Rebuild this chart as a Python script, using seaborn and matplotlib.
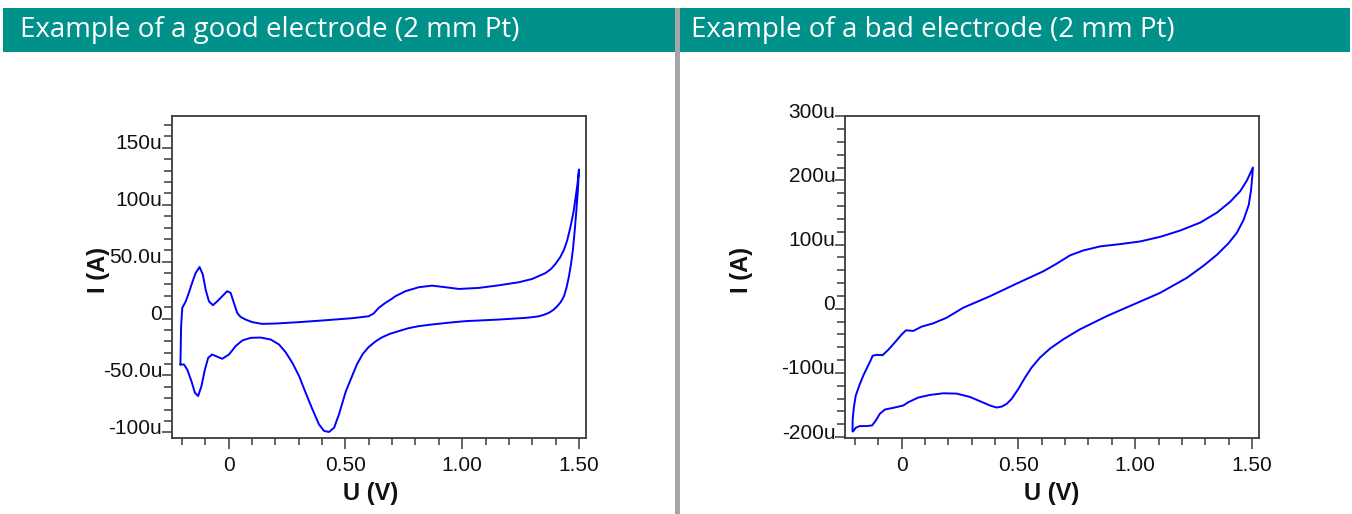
import numpy as np
import pandas as pd
import matplotlib
matplotlib.use("Agg")
import matplotlib.pyplot as plt
from matplotlib.patches import Rectangle
from matplotlib.transforms import ScaledTranslation
from matplotlib.ticker import MultipleLocator
import seaborn as sns

# ---------------- data (U in V, I in µA) ----------------
good_title = "Example of a good electrode (2 mm Pt)"
bad_title = "Example of a bad electrode (2 mm Pt)"

good_fwd_U = [-0.206, -0.203, -0.198, -0.183, -0.170, -0.156, -0.141, -0.124, -0.110, -0.098,
              -0.084, -0.067, -0.048, -0.027, -0.006, 0.009, 0.023, 0.037, 0.051, 0.073,
              0.102, 0.144, 0.20, 0.30, 0.416, 0.53, 0.60, 0.621, 0.643, 0.671, 0.70,
              0.714, 0.757, 0.814, 0.871, 0.929, 0.986, 1.071, 1.157, 1.243, 1.30, 1.357,
              1.38, 1.40, 1.42, 1.436, 1.45, 1.464, 1.476, 1.486, 1.494, 1.50]
good_fwd_I = [-40.4, -6.7, 9.4, 15.2, 22.5, 31.3, 40.0, 45.3, 38.6, 25.4,
              15.2, 11.7, 15.2, 19.6, 24.0, 22.5, 13.7, 5.0, 1.5, -0.9,
              -3.2, -4.7, -4.4, -3.2, -1.5, 0.3, 2.0, 4.4, 9.4, 13.7, 17.5,
              19.6, 24.0, 27.5, 28.9, 27.5, 26.0, 26.9, 29.2, 31.9, 34.8, 40.0,
              43.5, 48.2, 54.0, 60.5, 69.0, 81.0, 93.0, 107.0, 119.0, 131.0]
good_rev_U = [1.495, 1.489, 1.482, 1.474, 1.466, 1.457, 1.447, 1.436, 1.422, 1.407, 1.39,
              1.371, 1.35, 1.329, 1.30, 1.271, 1.157, 1.014, 0.95, 0.90, 0.86, 0.814,
              0.77, 0.729, 0.69, 0.657, 0.63, 0.60, 0.575, 0.55, 0.53, 0.502, 0.473,
              0.452, 0.430, 0.409, 0.387, 0.359, 0.330, 0.302, 0.273, 0.244, 0.216,
              0.180, 0.137, 0.094, 0.059, 0.030, 0.002, -0.027, -0.048, -0.070, -0.087,
              -0.101, -0.116, -0.130, -0.144, -0.159, -0.177, -0.191, -0.206]
good_rev_I = [112.0, 95.6, 78.0, 60.5, 48.0, 37.1, 27.5, 19.6, 14.5, 10.8, 7.5,
              5.0, 3.3, 2.0, 1.2, 0.6, -0.9, -2.3, -3.5, -4.6, -5.5, -6.7,
              -8.5, -11.0, -13.5, -16.5, -20.0, -25.0, -31.0, -40.0, -50.0, -64.0, -84.0,
              -95.9, -99.7, -98.8, -93.0, -79.8, -65.2, -50.6, -38.9, -29.5, -22.8,
              -18.4, -16.7, -17.0, -19.3, -24.3, -31.6, -35.4, -33.6, -31.6, -34.5,
              -44.7, -59.4, -68.1, -65.2, -55.0, -44.7, -40.4, -40.4]

bad_fwd_U = [-0.21, -0.209, -0.204, -0.196, -0.181, -0.164, -0.147, -0.131, -0.124, -0.107,
             -0.081, -0.057, -0.029, 0.0, 0.019, 0.05, 0.086, 0.136, 0.193, 0.264, 0.379,
             0.493, 0.607, 0.664, 0.721, 0.779, 0.85, 0.936, 1.021, 1.107, 1.193, 1.279,
             1.35, 1.407, 1.45, 1.479, 1.504]
bad_fwd_I = [-191.2, -171.6, -153.5, -135.4, -119.9, -104.4, -91.5, -79.6, -73.4, -71.8,
             -72.4, -64.1, -52.7, -40.3, -33.6, -34.6, -27.9, -22.7, -14.0, 1.6, 19.6,
             39.3, 58.4, 70.3, 83.2, 91.0, 97.2, 100.8, 104.9, 112.1, 122.0, 134.4,
             149.9, 166.9, 183.5, 200.5, 220.2]
bad_rev_U = [1.501, 1.496, 1.486, 1.464, 1.436, 1.40, 1.35, 1.293, 1.221, 1.107, 0.993,
             0.879, 0.764, 0.693, 0.636, 0.593, 0.557, 0.529, 0.50, 0.471, 0.45, 0.429,
             0.407, 0.379, 0.336, 0.293, 0.236, 0.179, 0.121, 0.071, 0.029, 0.007, -0.036,
             -0.071, -0.093, -0.11, -0.126, -0.15, -0.179, -0.196, -0.207]
bad_rev_I = [205.7, 185.0, 161.8, 138.5, 118.9, 102.3, 84.2, 67.2, 48.1, 24.8, 6.7,
             -11.4, -32.0, -47.5, -62.0, -76.0, -91.5, -107.0, -125.0, -140.6, -148.3, -152.5,
             -154.0, -150.9, -144.2, -137.5, -132.3, -131.8, -134.4, -138.5, -145.7, -150.9, -154.5,
             -157.1, -163.8, -174.2, -181.9, -182.9, -182.9, -185.5, -191.2]

x_ticks = [0.0, 0.5, 1.0, 1.5]
x_tick_labels = ["0", "0.50", "1.00", "1.50"]
good_y_ticks = [-100, -50, 0, 50, 100, 150]
good_y_labels = ["-100u", "-50.0u", "0", "50.0u", "100u", "150u"]
bad_y_ticks = [-200, -100, 0, 100, 200, 300]
bad_y_labels = ["-200u", "-100u", "0", "100u", "200u", "300u"]

# ---------------- style ----------------
sns.set_theme(style="white")
plt.rcParams["font.family"] = ["Liberation Sans", "DejaVu Sans"]

W, H = 1352, 514
fig = plt.figure(figsize=(W / 100, H / 100), dpi=100)
fig.patch.set_facecolor("white")

TEAL = "#00918a"
GRAY = "#a6a6a6"


def fx(px):
    return px / W


def fy(py):
    return 1 - py / H


# header bands and divider
fig.add_artist(Rectangle((fx(3), fy(52)), fx(675) - fx(3), (52 - 8) / H,
                         transform=fig.transFigure, facecolor=TEAL, edgecolor="none"))
fig.add_artist(Rectangle((fx(680), fy(52)), fx(1350) - fx(680), (52 - 8) / H,
                         transform=fig.transFigure, facecolor=TEAL, edgecolor="none"))
fig.add_artist(Rectangle((fx(675), 0), fx(680) - fx(675), fy(8),
                         transform=fig.transFigure, facecolor=GRAY, edgecolor="none"))
fig.text(fx(20), fy(30), good_title, color="white", fontsize=20,
         family=["Open Sans", "DejaVu Sans"], va="center", ha="left")
fig.text(fx(691), fy(30), bad_title, color="white", fontsize=20,
         family=["Open Sans", "DejaVu Sans"], va="center", ha="left")


def make_panel(rect, fU, fI, rU, rI, ylim, yticks, ylabels, yminor, ylab_x, xlab_x):
    ax = fig.add_axes(rect)
    df = pd.DataFrame({"U": list(fU) + list(rU),
                       "I": (np.array(list(fI) + list(rI)) * 1e-6)})
    sns.lineplot(data=df, x="U", y="I", sort=False, estimator=None,
                 color="#0000ff", lw=1.4, ax=ax)
    ax.set_xlim(-0.242, 1.53)
    ax.set_ylim(ylim[0] * 1e-6, ylim[1] * 1e-6)
    ax.set_xticks(x_ticks, x_tick_labels)
    ax.set_yticks([t * 1e-6 for t in yticks], ylabels)
    ax.xaxis.set_minor_locator(MultipleLocator(0.1))
    ax.yaxis.set_minor_locator(MultipleLocator(yminor * 1e-6))
    for s in ax.spines.values():
        s.set_color("#3a3a3a")
        s.set_linewidth(1.3)
    ax.tick_params(axis="x", which="major", direction="out", length=8, width=1.1,
                   color="#3a3a3a", labelsize=15, labelcolor="#111111", pad=5,
                   bottom=True)
    ax.tick_params(axis="x", which="minor", direction="out", length=5, width=1.1,
                   color="#3a3a3a", bottom=True)
    ax.tick_params(axis="y", which="major", direction="out", length=7, width=1.1,
                   color="#3a3a3a", labelsize=15, labelcolor="#111111", pad=0,
                   left=True)
    ax.tick_params(axis="y", which="minor", direction="out", length=6, width=1.1,
                   color="#3a3a3a", left=True)
    off = ScaledTranslation(0, 0.06, fig.dpi_scale_trans)
    for lab in ax.get_yticklabels():
        lab.set_transform(lab.get_transform() + off)
    ax.set_xlabel("U (V)", fontsize=17, fontweight="bold", color="#111111", va="center")
    ax.set_ylabel("I (A)", fontsize=17, fontweight="bold", color="#111111",
                  va="center", ha="center")
    ax.xaxis.set_label_coords(xlab_x, -0.171)
    ax.yaxis.set_label_coords(ylab_x, 0.522)
    ax.grid(False)
    return ax


axL = make_panel([fx(172), fy(438), fx(586) - fx(172), (438 - 116) / H],
                 good_fwd_U, good_fwd_I, good_rev_U, good_rev_I,
                 (-105, 178), good_y_ticks, good_y_labels, 10, -0.178, 0.48)
axR = make_panel([fx(845), fy(438), fx(1259) - fx(845), (438 - 116) / H],
                 bad_fwd_U, bad_fwd_I, bad_rev_U, bad_rev_I,
                 (-201.5, 300.5), bad_y_ticks, bad_y_labels, 20, -0.249, 0.50)

fig.savefig("out.png", dpi=100, facecolor="white")
